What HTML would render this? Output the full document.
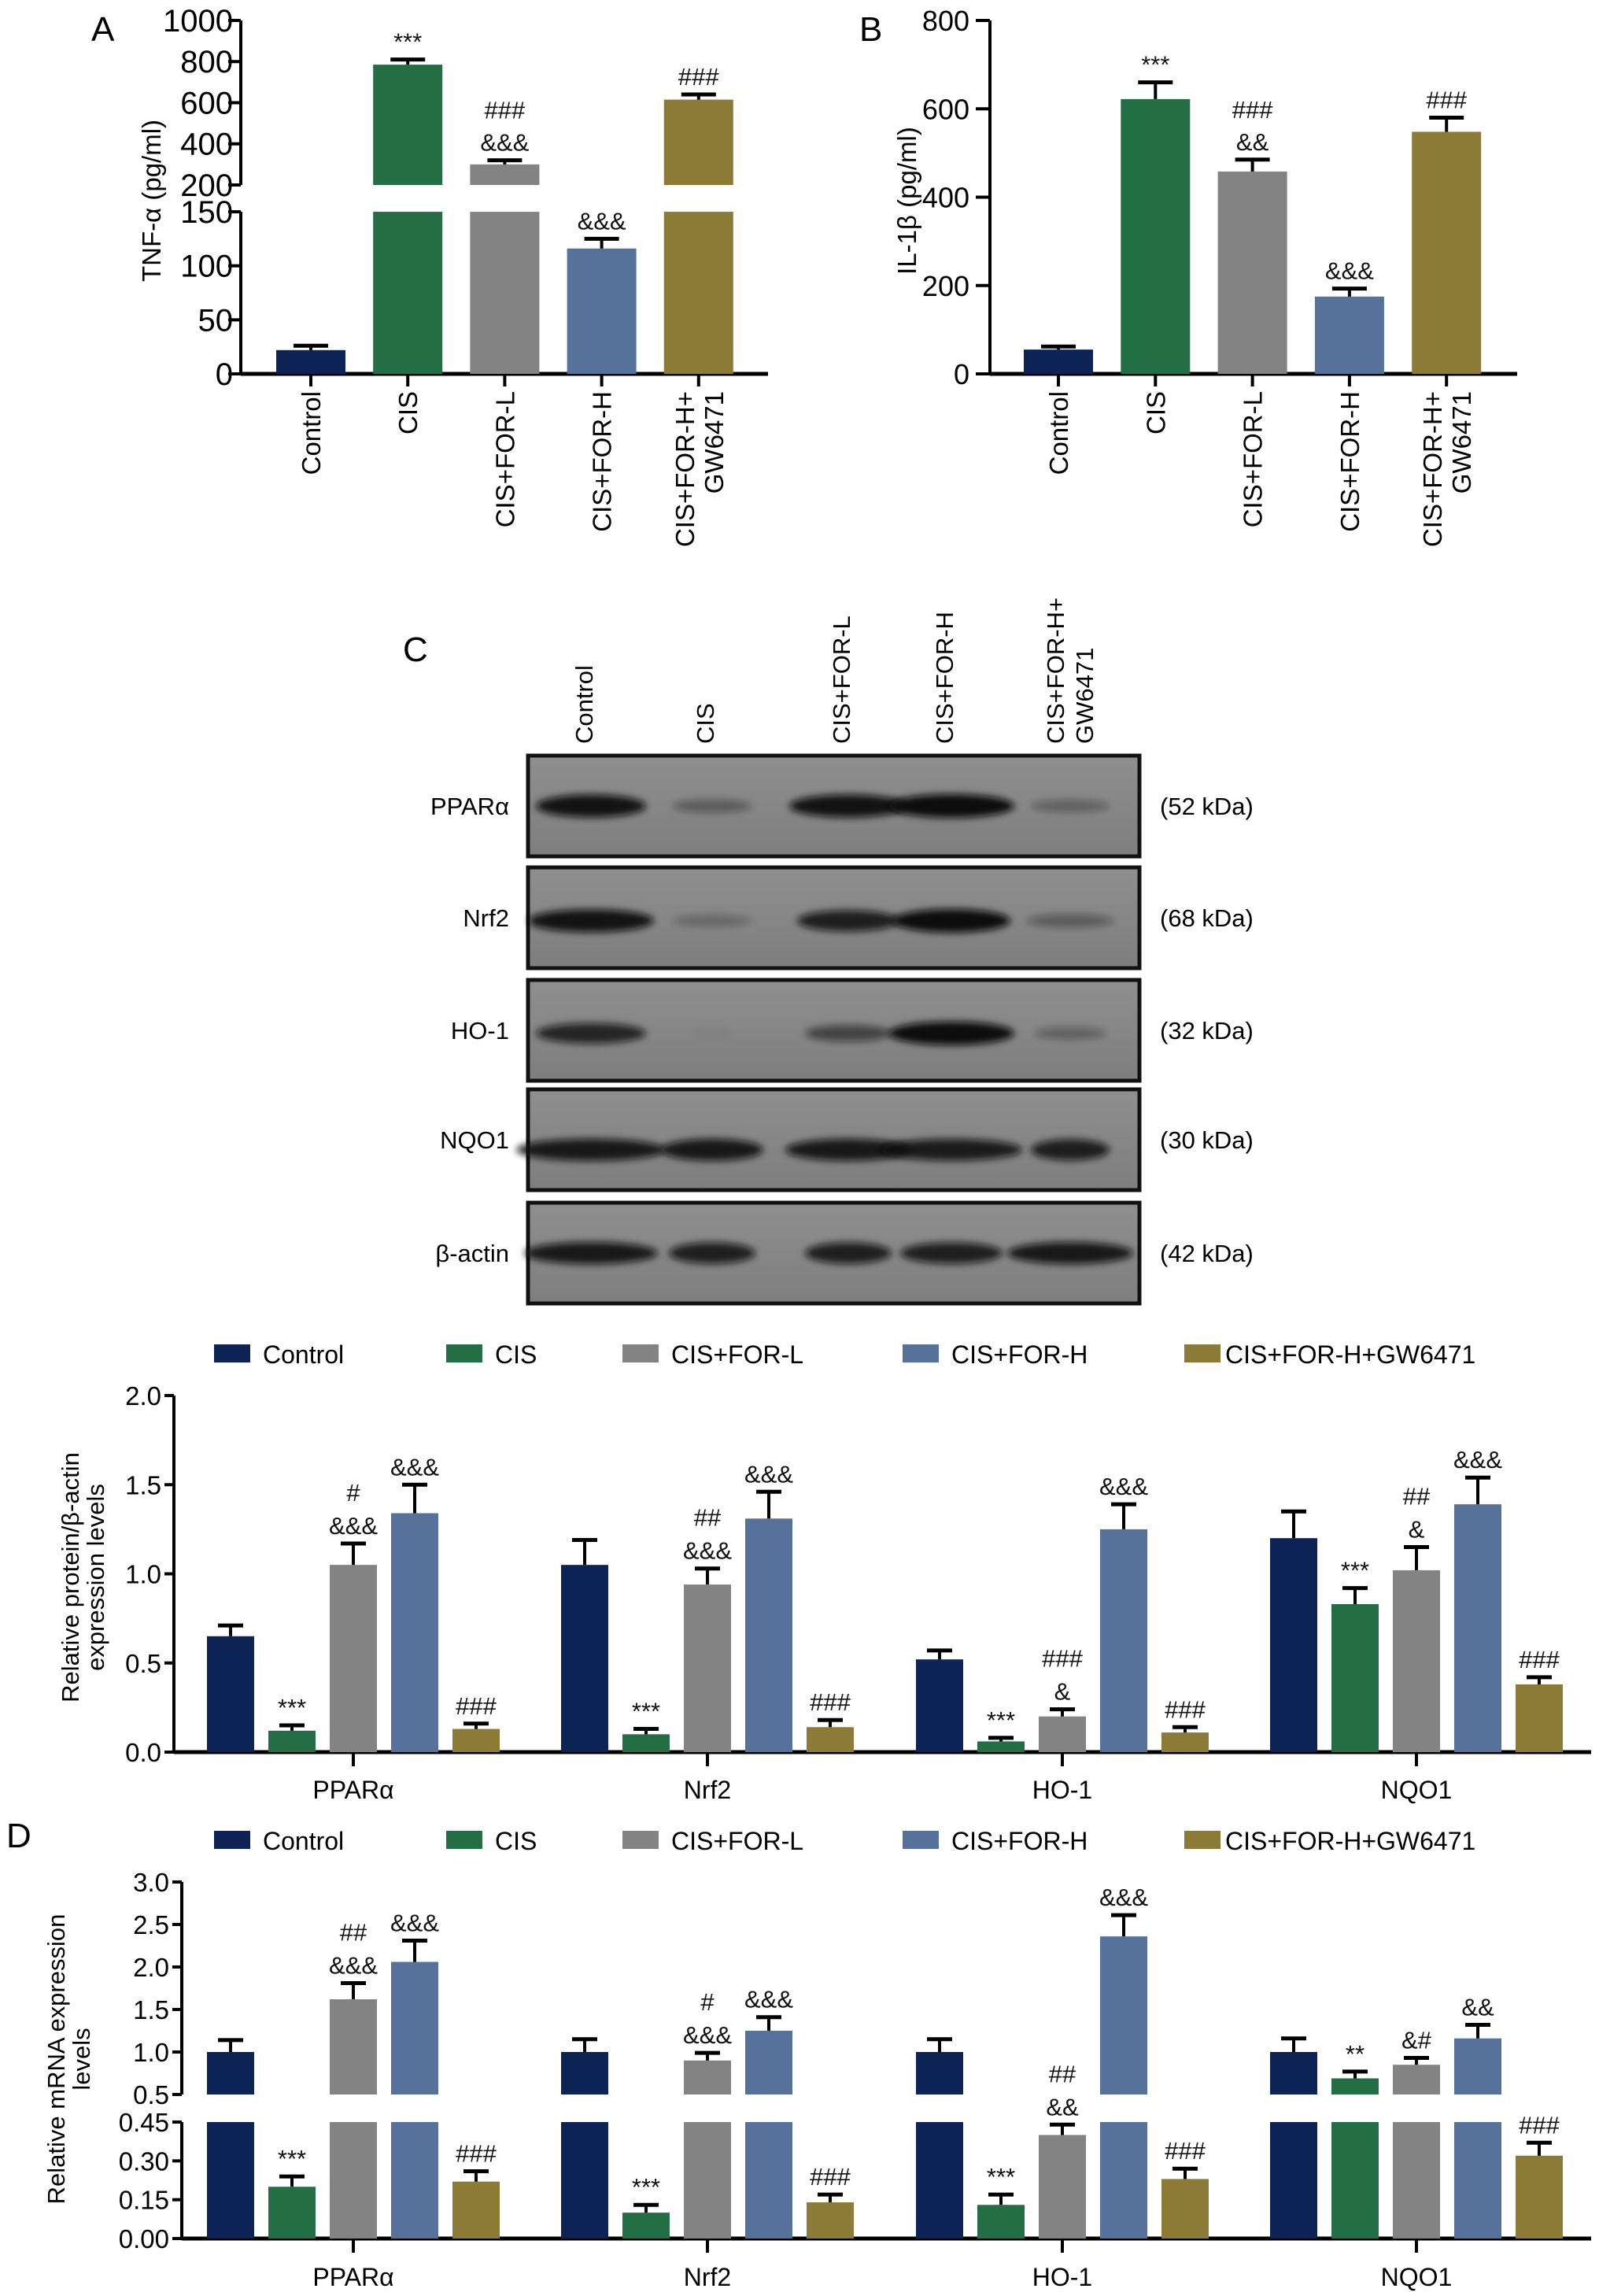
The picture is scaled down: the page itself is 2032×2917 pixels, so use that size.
<!DOCTYPE html>
<html><head><meta charset="utf-8">
<style>
html,body{margin:0;padding:0;background:#fff;}
svg{display:block;font-family:"Liberation Sans",Arial,sans-serif;}
</style></head>
<body>
<svg id="fig" width="2032" height="2917" viewBox="0 0 2032 2917" xmlns="http://www.w3.org/2000/svg">
<defs>
<filter id="blur" x="-50%" y="-200%" width="200%" height="500%"><feGaussianBlur stdDeviation="4.5"/></filter>
<linearGradient id="blotbg" x1="0" y1="0" x2="0" y2="1"><stop offset="0" stop-color="#8f8f8f"/><stop offset="1" stop-color="#7e7e7e"/></linearGradient>
</defs>
<g id="root"></g>
</svg>
<script>
// ---------- data ----------
const groups = ["Control","CIS","CIS+FOR-L","CIS+FOR-H","CIS+FOR-H+GW6471"];
const colors = ["#0e2355","#236e44","#838383","#56729b","#8b7b37"];

const tnfValues = [22,785,300,116,615];
const tnfErrors = [26,810,320,125,640];
const tnfSig = ["","***","###|&&&","&&&","###"];
const tnfLowTicks = [0,50,100,150];
const tnfHighTicks = [200,400,600,800,1000];

const il1Values = [55,622,458,175,548];
const il1Errors = [62,660,485,193,580];
const il1Sig = ["","***","###|&&","&&&","###"];
const il1Ticks = [0,200,400,600,800];

const genes = ["PPARα","Nrf2","HO-1","NQO1"];
const protValues = [[0.65,0.12,1.05,1.34,0.13],[1.05,0.10,0.94,1.31,0.14],[0.52,0.06,0.20,1.25,0.11],[1.20,0.83,1.02,1.39,0.38]];
const protErrors = [[0.71,0.15,1.17,1.50,0.16],[1.19,0.13,1.03,1.46,0.18],[0.57,0.08,0.24,1.39,0.14],[1.35,0.92,1.15,1.54,0.42]];
const protSig = [["","***","#|&&&","&&&","###"],["","***","##|&&&","&&&","###"],["","***","###|&","&&&","###"],["","***","##|&","&&&","###"]];
const protTicks = ["0.0","0.5","1.0","1.5","2.0"];

const mrnaValues = [[1.0,0.20,1.62,2.06,0.22],[1.0,0.10,0.90,1.25,0.14],[1.0,0.13,0.40,2.36,0.23],[1.0,0.69,0.85,1.16,0.32]];
const mrnaErrors = [[1.14,0.24,1.81,2.31,0.26],[1.15,0.13,0.99,1.41,0.17],[1.15,0.17,0.44,2.61,0.27],[1.16,0.77,0.93,1.32,0.37]];
const mrnaSig = [["","***","##|&&&","&&&","###"],["","***","#|&&&","&&&","###"],["","***","##|&&","&&&","###"],["","**","&#","&&","###"]];
const mrnaLowTicks = ["0.00","0.15","0.30","0.45"];
const mrnaHighTicks = ["0.5","1.0","1.5","2.0","2.5","3.0"];

const blotRows = ["PPARα","Nrf2","HO-1","NQO1","β-actin"];
const blotKda = ["(52 kDa)","(68 kDa)","(32 kDa)","(30 kDa)","(42 kDa)"];
const blotIntensity = [[0.95,0.35,0.95,1,0.3],[0.95,0.25,0.85,1,0.35],[0.8,0.05,0.55,1,0.3],[0.9,0.9,0.9,0.88,0.85],[0.9,0.85,0.85,0.85,0.9]];

// ---------- helpers ----------
const NS="http://www.w3.org/2000/svg";
const root=document.getElementById('root');
function mk(tag,attrs,parent,txt){const e=document.createElementNS(NS,tag);for(const k in attrs)e.setAttribute(k,attrs[k]);if(txt!==undefined)e.textContent=txt;(parent||root).appendChild(e);return e;}
function line(x1,y1,x2,y2,w,p){return mk('line',{x1,y1,x2,y2,stroke:'#000','stroke-width':w||4},p);}
function errBar(g,cx,y1,y2,hw){line(cx,y1,cx,y2,4,g);line(cx-hw,y2,cx+hw,y2,5,g);}
function sigText(g,cx,topY,sig,fs,gap){
  if(!sig)return;
  const parts=sig.split('|');
  for(let i=parts.length-1,k=0;i>=0;i--,k++){
    const t=mk('text',{x:cx,y:topY-12-k*gap,'text-anchor':'middle','font-size':fs,fill:'#111'},g,parts[i]);
    
    
  }
}

// ---------- Panel A ----------
(function(){
  const g=mk('g',{});
  const ax=306, base=475;
  const y=v=> v<=150 ? base-v*1.373 : 235-(v-200)*0.2613;
  const cx=i=>395+i*123.2, bw=88;
  mk('text',{x:116,y:52,'font-size':44},g,'A');
  line(ax,y(0)+2,ax,y(150),4,g); line(ax,y(200),ax,y(1000),4,g);
  line(ax,base,976,base,5,g);
  tnfLowTicks.forEach(v=>{line(ax-16,y(v),ax,y(v),4,g);const t=mk('text',{x:ax-10,y:y(v)+14,'text-anchor':'end','font-size':40},g,v);});
  tnfHighTicks.forEach(v=>{line(ax-16,y(v),ax,y(v),4,g);const t=mk('text',{x:ax-10,y:y(v)+14,'text-anchor':'end','font-size':40},g,v);});
  const yt=mk('text',{x:0,y:0,'text-anchor':'middle','font-size':33,transform:'translate(204,255) rotate(-90)'},g,'TNF-α (pg/ml)');
  
  tnfValues.forEach((v,i)=>{
    const c=cx(i);
    let r;
    if(v>150){
      r=mk('rect',{x:c-bw/2,y:y(150),width:bw,height:base-y(150),fill:colors[i]},g);
      const r2=mk('rect',{x:c-bw/2,y:y(v),width:bw,height:y(200)-y(v),fill:colors[i]},g);
      
    } else r=mk('rect',{x:c-bw/2,y:y(v),width:bw,height:base-y(v),fill:colors[i]},g);
    
    errBar(g,c,y(v),y(tnfErrors[i]),22);
    sigText(g,c,y(tnfErrors[i]),tnfSig[i],31,41);
    line(c,base,c,base+16,4,g);
  });
  groups.forEach((n,i)=>xLabel(g,cx(i),n));
})();

function xLabel(g,c,n){
  if(n==="CIS+FOR-H+GW6471"){
    let t=mk('text',{x:0,y:0,'text-anchor':'end','font-size':33,transform:`translate(${c-6},497) rotate(-90)`},g,'CIS+FOR-H+');
    
    t=mk('text',{x:0,y:0,'text-anchor':'end','font-size':33,transform:`translate(${c+31},497) rotate(-90)`},g,'GW6471');
    
  } else {
    const t=mk('text',{x:0,y:0,'text-anchor':'end','font-size':33,transform:`translate(${c+12},497) rotate(-90)`},g,n);
    
  }
}

// ---------- Panel B ----------
(function(){
  const g=mk('g',{});
  const ax=1258, base=475;
  const y=v=>base-v*(449/800);
  const cx=i=>1345+i*123.3, bw=88;
  mk('text',{x:1092,y:52,'font-size':44},g,'B');
  line(ax,base+2,ax,y(800),4,g);
  line(ax,base,1928,base,5,g);
  il1Ticks.forEach(v=>{line(ax-18,y(v),ax,y(v),4,g);const t=mk('text',{x:ax-26,y:y(v)+13,'text-anchor':'end','font-size':36},g,v);});
  const yt=mk('text',{x:0,y:0,'text-anchor':'middle','font-size':33,transform:'translate(1164,255) rotate(-90)'},g,'IL-1β (pg/ml)');
  
  il1Values.forEach((v,i)=>{
    const c=cx(i);
    const r=mk('rect',{x:c-bw/2,y:y(v),width:bw,height:base-y(v),fill:colors[i]},g);
    
    errBar(g,c,y(v),y(il1Errors[i]),22);
    sigText(g,c,y(il1Errors[i]),il1Sig[i],31,41);
    line(c,base,c,base+16,4,g);
  });
  groups.forEach((n,i)=>xLabel(g,cx(i),n));
})();

// ---------- Western blot ----------
(function(){
  const g=mk('g',{});
  mk('text',{x:512,y:840,'font-size':44},g,'C');
  const lanes=[741,895,1068,1199,1360];
  const laneLabels=[["Control"],["CIS"],["CIS+FOR-L"],["CIS+FOR-H"],["CIS+FOR-H+","GW6471"]];
  laneLabels.forEach((ls,i)=>{
    ls.forEach((s,k)=>{
      const off=ls.length>1?(k===0?-8:29):12;
      const t=mk('text',{x:0,y:0,'text-anchor':'start','font-size':31,transform:`translate(${lanes[i]+off},945) rotate(-90)`},g,s);
      
    });
  });
  const tops=[960,1102,1245,1384,1528], h=128;
  const bandW=[[140,100,150,160,100],[160,100,130,150,110],[140,50,110,160,90],[190,130,160,180,100],[170,110,110,130,160]];
  const bandY=[0.5,0.53,0.53,0.6,0.5];
  blotRows.forEach((name,r)=>{
    const bx=mk('rect',{x:671,y:tops[r],width:777,height:h,fill:'url(#blotbg)',stroke:'#111','stroke-width':5},g);
    
    lanes.forEach((lx,i)=>{
      const a=blotIntensity[r][i];
      const cxl=lx+(i===4?0:10);
      mk('ellipse',{cx:cxl,cy:tops[r]+h*bandY[r],rx:bandW[r][i]/2,ry:5+a*10,fill:'#0a0a0a',opacity:a,filter:'url(#blur)'},g);
    });
    const t=mk('text',{x:647,y:tops[r]+h/2+11,'text-anchor':'end','font-size':31},g,name);
    
    const k=mk('text',{x:1474,y:tops[r]+h/2+11,'font-size':31},g,blotKda[r]);
    
  });
})();

// ---------- grouped chart helper ----------
const gcx=[449,899,1350,1800];
function legend(g,y){
  const sx=[272,567,791,1147,1505];
  groups.forEach((n,i)=>{
    const r=mk('rect',{x:sx[i],y:y-12,width:46,height:23,fill:colors[i]},g);
    
    const t=mk('text',{x:sx[i]+(i===4?52:62),y:y+12,'font-size':32},g,n);
    
  });
}

// ---------- Panel C chart ----------
(function(){
  const g=mk('g',{});
  legend(g,1720);
  const ax=221, base=2226;
  const y=v=>base-v*226.5;
  line(ax,base+2,ax,y(2),4,g);
  line(ax,base,2022,base,5,g);
  protTicks.forEach(s=>{const v=+s;line(ax-12,y(v),ax,y(v),4,g);const t=mk('text',{x:ax-16,y:y(v)+12,'text-anchor':'end','font-size':33},g,s);});
  let t=mk('text',{x:0,y:0,'text-anchor':'middle','font-size':31,transform:'translate(100,2004) rotate(-90)'},g,'Relative protein/β-actin');
  
  t=mk('text',{x:0,y:0,'text-anchor':'middle','font-size':31,transform:'translate(132,2004) rotate(-90)'},g,'expression levels');
  
  genes.forEach((gn,j)=>{
    line(gcx[j],base,gcx[j],base+18,4,g);
    const l=mk('text',{x:gcx[j],y:2285,'text-anchor':'middle','font-size':32},g,gn);
    
    protValues[j].forEach((v,i)=>{
      const c=gcx[j]+(i-2)*78;
      const r=mk('rect',{x:c-30,y:y(v),width:60,height:base-y(v),fill:colors[i]},g);
      
      errBar(g,c,y(v),y(protErrors[j][i]),16);
      sigText(g,c,y(protErrors[j][i]),protSig[j][i],31,42);
    });
  });
})();

// ---------- Panel D chart ----------
(function(){
  const g=mk('g',{});
  mk('text',{x:8,y:2347,'font-size':44},g,'D');
  legend(g,2338);
  const ax=231, base=2844;
  const y=v=> v<=0.45 ? base-v*(148/0.45) : 2661-(v-0.5)*(270/2.5);
  line(ax,base+2,ax,y(0.45),4,g); line(ax,y(0.5),ax,y(3.0),4,g);
  line(ax,base,2022,base,5,g);
  mrnaLowTicks.forEach(s=>{const v=+s;line(ax-12,y(v),ax,y(v),4,g);const t=mk('text',{x:ax-16,y:y(v)+12,'text-anchor':'end','font-size':33},g,s);});
  mrnaHighTicks.forEach(s=>{const v=+s;line(ax-12,y(v),ax,y(v),4,g);const t=mk('text',{x:ax-16,y:y(v)+12,'text-anchor':'end','font-size':33},g,s);});
  let t=mk('text',{x:0,y:0,'text-anchor':'middle','font-size':31,transform:'translate(82,2616) rotate(-90)'},g,'Relative mRNA expression');
  
  t=mk('text',{x:0,y:0,'text-anchor':'middle','font-size':31,transform:'translate(114,2616) rotate(-90)'},g,'levels');
  
  genes.forEach((gn,j)=>{
    line(gcx[j],base,gcx[j],base+18,4,g);
    const l=mk('text',{x:gcx[j],y:2904,'text-anchor':'middle','font-size':32},g,gn);
    
    mrnaValues[j].forEach((v,i)=>{
      const c=gcx[j]+(i-2)*78;
      let r;
      if(v>0.45){
        r=mk('rect',{x:c-30,y:y(0.45),width:60,height:base-y(0.45),fill:colors[i]},g);
        const r2=mk('rect',{x:c-30,y:y(v),width:60,height:Math.max(0,y(0.5)-y(v)),fill:colors[i]},g);
        
      } else r=mk('rect',{x:c-30,y:y(v),width:60,height:base-y(v),fill:colors[i]},g);
      
      errBar(g,c,y(v),y(mrnaErrors[j][i]),16);
      sigText(g,c,y(mrnaErrors[j][i]),mrnaSig[j][i],31,42);
    });
  });
})();
</script>
</body></html>
